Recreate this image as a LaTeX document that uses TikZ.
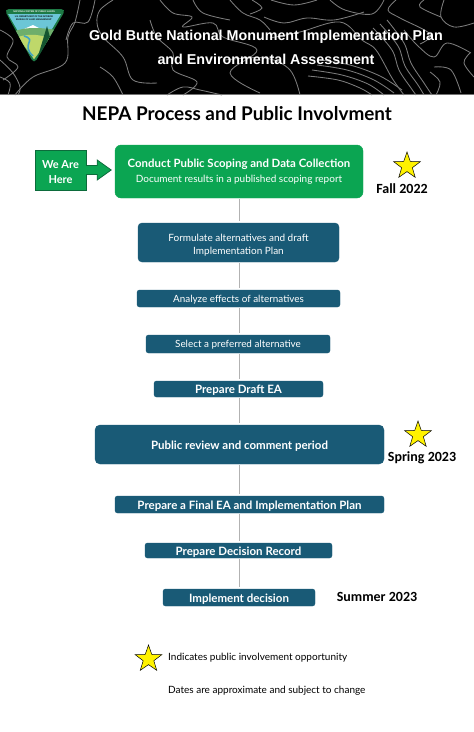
\documentclass[tikz,border=0pt]{standalone}
\usepackage{fontspec}
\setmainfont{Lato}
\newfontfamily\headfont{Liberation Sans}
\newfontfamily\datefont{Carlito}
\usepackage{xcolor}
\usetikzlibrary{positioning,shapes.geometric,calc}
\definecolor{scopegreen}{HTML}{0BA552}
\definecolor{hereedge}{HTML}{0C6B3B}
\definecolor{steppetrol}{HTML}{195A76}
\definecolor{contourgray}{HTML}{7C7C7C}
\definecolor{logogreen}{HTML}{1E7A45}
\definecolor{logosky}{HTML}{6CC6D6}
\definecolor{logohill}{HTML}{6FAE6B}
\definecolor{logolime}{HTML}{BFD86A}
\definecolor{logoriver}{HTML}{3FA3C4}
\newcommand{\contourline}[1]{\draw[contour] plot[smooth, tension=0.6] coordinates {#1};}

\begin{document}
\begin{tikzpicture}[
    x=1pt, y=-1pt,
    stepbox/.style={rectangle, draw=steppetrol, fill=steppetrol, rounded corners=2.5pt, inner sep=0pt, align=center, text=white, text height=7.5pt, text depth=0pt, font=\fontsize{9.9}{13}\selectfont},
    boldbox/.style={stepbox, text height=9pt, font=\fontsize{11.5}{14}\selectfont\bfseries},
    contour/.style={draw=contourgray, line width=0.85pt},
    link/.style={draw=black!30, line width=1pt, shorten >=2pt, shorten <=1pt},
    involve/.style={star, star points=5, star point ratio=2.5, draw=black, fill=yellow, line width=0.5pt, inner sep=0pt, minimum size=28pt},
    datelabel/.style={font=\datefont\bfseries\fontsize{14}{18}\selectfont, inner sep=0pt, text height=9.5pt, text depth=0pt},
    notelabel/.style={font=\fontsize{10}{12}\selectfont, anchor=west, inner sep=0pt}
]
\useasboundingbox (0,0) rectangle (474,732);

% header band
\fill[black] (0,0) rectangle (474,94);
\fill[black!55] (0,93.5) rectangle (474,95);

% contour lines, left
\contourline{(80,0) (75,22) (68,37) (65,63) (33,77) (15,95)}
\contourline{(95,0) (88,22) (73,23) (66,40)}
\contourline{(0,30) (13,40) (7,57) (18,67) (3,80)}
\contourline{(0,60) (13,73) (20,87) (18,95)}
\contourline{(0,77) (10,83) (8,95)}
% contour lines, middle
\contourline{(113,0) (100,10) (97,23) (103,37) (123,57) (133,80) (157,83)}
\contourline{(100,67) (113,77) (123,95)}
\contourline{(160,0) (173,13) (192,17) (183,27) (213,23) (223,37) (257,50) (230,73) (260,93)}
\contourline{(193,0) (203,13) (230,20)}
\contourline{(150,20) (157,37) (173,53) (173,70) (197,82) (183,95)}
\contourline{(230,0) (243,13) (260,20) (270,30)}
\contourline{(167,95) (183,87) (200,90) (222,95)}
\contourline{(264,17) (284,23) (307,18) (334,20) (364,12)}
\contourline{(271,0) (294,5) (317,0)}
\contourline{(252,0) (262,8) (250,14)}
\contourline{(225,60) (265,58) (290,70) (300,95)}
% contour lines, right
\contourline{(270,38) (300,32) (340,22) (362,40) (376,50) (392,78) (404,95)}
\contourline{(387,20) (404,43) (411,63) (424,83) (432,95)}
\contourline{(380,24) (398,46) (405,66) (418,85) (424,95)}
\contourline{(373,28) (392,50) (399,70) (411,88) (416,95)}
\contourline{(317,65) (347,70) (374,80) (394,93)}
\contourline{(312,70) (342,75) (368,84) (384,95)}
\contourline{(308,76) (338,80) (360,88) (372,95)}
\contourline{(320,60) (350,65) (380,76) (402,90)}
\contourline{(444,0) (441,17) (454,27) (474,23)}
\contourline{(424,0) (420,7) (441,17)}
\contourline{(471,53) (447,43) (434,57) (418,46) (404,30)}
\contourline{(434,67) (451,70) (461,93)}
\contourline{(474,77) (464,63) (470,53)}
\contourline{(436,95) (440,82) (430,72)}
\contourline{(396,0) (388,10) (400,18) (430,34) (420,44)}
\contourline{(330,0) (345,10) (372,14) (384,0)}

% logo
\begin{scope}
    \clip[rounded corners=5pt] (4,9) -- (66,9) -- (34,64) -- cycle;
    \fill[logogreen] (0,5) rectangle (70,70);
    \fill[logosky] (8,14) -- (61,14) -- (34,59) -- cycle;
    \fill[white] (24,29) -- (33,25) -- (43,30) -- cycle;
    \fill[logohill] (13,32) .. controls (25,26) and (45,28) .. (56,30) -- (34,59) -- cycle;
    \fill[logolime] (18,37) .. controls (30,33) and (40,35) .. (50,38) -- (34,59) -- cycle;
    \draw[logoriver, line width=1.6pt] (24,36) .. controls (38,40) and (20,44) .. (33,56);
    \fill[logogreen!70!black] (47,26) -- (54,52) -- (38,56) -- cycle;
\end{scope}
\node[inner sep=0pt, text=white, font=\bfseries\fontsize{2.3}{3}\selectfont] (logotop) at (34,11.5) {NATIONAL SYSTEM OF PUBLIC LANDS};
\node[inner sep=0pt, align=center, text=black, font=\bfseries\fontsize{2.2}{3}\selectfont] (logotext) at (34,18.5) {U.S. DEPARTMENT OF THE INTERIOR\\BUREAU OF LAND MANAGEMENT};

% titles
\node[text=white, inner sep=0pt, font=\headfont\bfseries\fontsize{14.3}{24}\selectfont, align=center] (plantitle) at (266,47.5) {Gold Butte National Monument Implementation Plan\\and Environmental Assessment};
\node[inner sep=0pt, font=\bfseries\fontsize{18.9}{24}\selectfont] (pagetitle) at (237,114) {NEPA Process and Public Involvment};

% process boxes
\node[stepbox, draw=scopegreen, fill=scopegreen, rounded corners=6pt, minimum width=248pt, minimum height=53pt, text height=, text depth=, font=\fontsize{10}{15.5}\selectfont] (scoping) at (239,171.5) {\textbf{\fontsize{11.4}{15.5}\selectfont Conduct Public Scoping and Data Collection}\\Document results in a published scoping report};
\node[stepbox, minimum width=201pt, minimum height=39pt, rounded corners=4pt, text height=, text depth=, font=\fontsize{10}{13}\selectfont] (formulate) at (238.5,242.5) {\rule{0pt}{13pt}Formulate alternatives and draft\\Implementation Plan};
\node[stepbox, minimum width=203pt, minimum height=17pt] (analyze) at (238.5,298.5) {Analyze effects of alternatives};
\node[stepbox, minimum width=184pt, minimum height=18pt] (select) at (238,344) {Select a preferred alternative};
\node[boldbox, minimum width=169pt, minimum height=16pt] (draft) at (238.5,389) {Prepare Draft EA};
\node[boldbox, minimum width=289pt, minimum height=39pt, rounded corners=5pt] (public) at (239.5,444.5) {Public review and comment period};
\node[boldbox, minimum width=269pt, minimum height=17pt] (final) at (249.5,504.5) {Prepare a Final EA and Implementation Plan};
\node[boldbox, minimum width=187pt, minimum height=15pt] (decision) at (238.5,550.5) {Prepare Decision Record};
\node[boldbox, minimum width=152pt, minimum height=17pt] (implement) at (239,597.5) {Implement decision};

% connectors
\foreach \a/\b in {scoping/formulate, formulate/analyze, analyze/select, select/draft, draft/public, public/final, final/decision, decision/implement}
    \draw[link] (scoping.south |- \a.south) -- (scoping.south |- \b.north);

% we are here
\node[draw=hereedge, fill=scopegreen, inner sep=0pt, minimum width=51pt, minimum height=40pt, align=center, text=white, font=\bfseries\fontsize{11}{14.5}\selectfont] (here) at (60.5,170) {\rule{0pt}{12pt}We Are\\Here};
\draw[draw=hereedge, fill=scopegreen, line width=0.8pt] ($(here.east)+(0,-4.5)$) -- ++(11,0) -- ++(0,-5.5) -- ++(14,10) -- ++(-14,10) -- ++(0,-5.5) -- ++(-11,0);

% stars and dates
\node[involve] (fallstar) at (407,166) {};
\node[datelabel] (fall) at (402,189) {Fall 2022};
\node[involve] (springstar) at (418,435) {};
\node[datelabel] (spring) at (422,457) {Spring 2023};
\node[datelabel] (summer) at (377,597) {Summer 2023};

% key
\node[involve] (keystar) at (148.5,659) {};
\node[notelabel] (keynote) at (168,657.5) {Indicates public involvement opportunity};
\node[notelabel] (datesnote) at (168,690.5) {Dates are approximate and subject to change};

\end{tikzpicture}
\end{document}
